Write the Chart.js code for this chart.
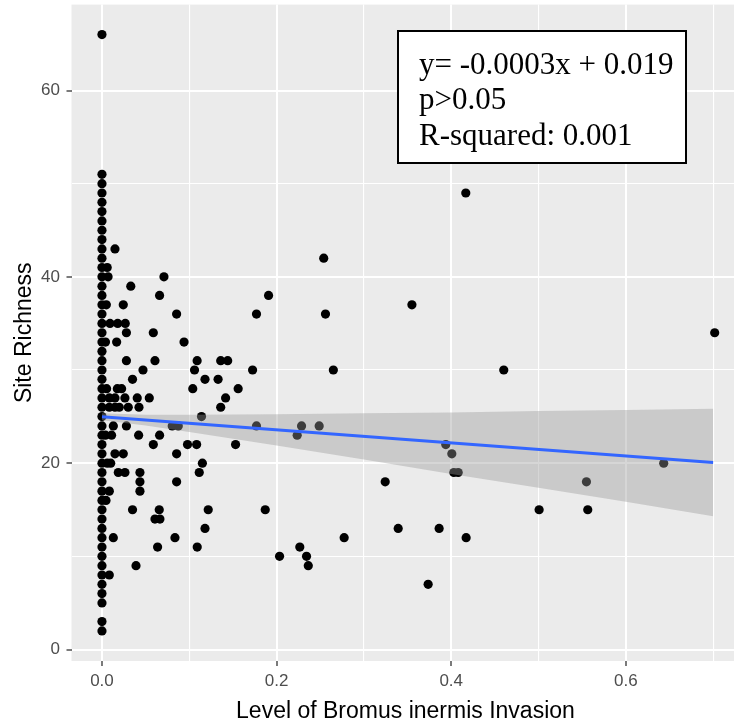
<!DOCTYPE html>
<html>
<head>
<meta charset="utf-8">
<script src="https://cdn.jsdelivr.net/npm/chart.js@4.4.1/dist/chart.umd.min.js"></script>
<style>
  html, body { margin: 0; padding: 0; background: #ffffff; overflow: hidden; }
  #wrap { width: 734px; height: 725px; position: relative; overflow: hidden; }
  #c { display: block; }
</style>
</head>
<body>
<div id="wrap"><canvas id="c" width="744" height="725"></canvas></div>
<script>
// Level of Bromus inermis invasion per site (proportion cover)
const bromusLevel = [
  0, 0, 0, 0, 0, 0, 0, 0, 0, 0,
  0, 0, 0, 0, 0, 0, 0, 0, 0, 0,
  0, 0, 0, 0, 0, 0, 0, 0, 0, 0,
  0, 0, 0, 0, 0, 0, 0, 0, 0, 0,
  0, 0, 0, 0, 0, 0, 0, 0, 0, 0,
  0.0149, 0.006, 0.007, 0.071, 0.033, 0.066, 0.0244, 0.005, 0.0855, 0.177,
  0.0092, 0.018, 0.0267, 0.028, 0.0588, 0.0168, 0.004, 0.094,
  0.028, 0.0607, 0.109, 0.136, 0.144, 0.047, 0.106, 0.1725,
  0.035, 0.118, 0.133, 0.0053, 0.0176, 0.0225, 0.104, 0.156,
  0.0084, 0.0149, 0.0263, 0.0404, 0.0542, 0.1416,
  0.0084, 0.0149, 0.0198, 0.0301, 0.0424, 0.136, 0.114,
  0.013, 0.028, 0.0805, 0.0874, 0.177,
  0.004, 0.011, 0.042, 0.066, 0.0588, 0.098, 0.1084, 0.153,
  0.0149, 0.0244, 0.0855, 0.006, 0.01, 0.115,
  0.0187, 0.0263, 0.0435, 0.1114, 0.0435, 0.0855, 0.0084, 0.0435, 0.0046,
  0.035, 0.0656, 0.1217, 0.0607, 0.0664, 0.118, 0.013, 0.0836,
  0.0637, 0.1091, 0.039, 0.0084,
  0.254, 0.1908, 0.256, 0.355, 0.265, 0.2286, 0.2236, 0.2488, 0.3938,
  0.187, 0.2034, 0.2266, 0.2343, 0.2363, 0.2774, 0.3244, 0.3393, 0.3862, 0.3736,
  0.4171, 0.4007, 0.403, 0.408, 0.4602, 0.7018, 0.4167,
  0.5007, 0.5564, 0.5549, 0.6434
];

// Species richness recorded at each site
const siteRichness = [
  2, 3, 5, 6, 7, 8, 9, 10, 11, 12,
  13, 14, 15, 16, 17, 18, 19, 20, 21, 22,
  23, 24, 25, 26, 27, 28, 29, 30, 31, 32,
  33, 34, 35, 36, 37, 38, 39, 40, 41, 42,
  43, 44, 45, 46, 47, 48, 49, 50, 51, 66,
  43, 41, 40, 40, 39, 38, 37, 37, 36, 36,
  35, 35, 35, 34, 34, 33, 33, 33,
  31, 31, 31, 31, 31, 30, 30, 30,
  29, 29, 29, 28, 28, 28, 28, 28,
  27, 27, 27, 27, 27, 27,
  26, 26, 26, 26, 26, 26, 25,
  24, 24, 24, 24, 24,
  23, 23, 23, 23, 22, 22, 22, 22,
  21, 21, 21, 20, 20, 20,
  19, 19, 19, 19, 18, 18, 17, 17, 16,
  15, 15, 15, 14, 14, 13, 12, 12,
  11, 11, 9, 8,
  42, 38, 36, 37, 30, 24, 23, 24, 22,
  15, 10, 11, 10, 9, 12, 18, 13, 13, 7,
  12, 21, 19, 19, 30, 34, 49,
  15, 15, 18, 20
];

// Fitted linear trend and its 95% confidence band
const fitX = [0, 0.7];
const fitY = [24.97, 20.07];
const bandX = [0, 0.05, 0.1, 0.2, 0.3, 0.4, 0.5, 0.6, 0.7];
const bandUpper = [25.35, 25.2, 25.2, 25.25, 25.35, 25.45, 25.6, 25.7, 25.85];
const bandLower = [24.6, 24.05, 23.35, 21.9, 20.4, 18.85, 17.35, 15.85, 14.3];

// Axis ticks
const xMajorTicks = [0, 0.2, 0.4, 0.6];
const xMinorTicks = [0.1, 0.3, 0.5, 0.7];
const yMajorTicks = [0, 20, 40, 60];
const yMinorTicks = [10, 30, 50];

// Regression summary text
const summaryLines = ['y= -0.0003x + 0.019', 'p>0.05', 'R-squared: 0.001'];

const toXY = (xs, ys) => xs.map((x, i) => ({ x: x, y: ys[i] }));
const isMajor = (list, v) => list.some(t => Math.abs(t - v) < 1e-9);
const noOverhang = scale => {
  scale.paddingTop = 0; scale.paddingBottom = 0;
  scale.paddingLeft = 0; scale.paddingRight = 0;
};

const panelBackground = {
  id: 'panelBackground',
  beforeDraw(chart) {
    const { ctx, chartArea: a } = chart;
    ctx.save();
    ctx.fillStyle = '#EBEBEB';
    ctx.fillRect(a.left, a.top, a.right - a.left, a.bottom - a.top);
    ctx.restore();
  }
};

const summaryBox = {
  id: 'summaryBox',
  afterDraw(chart) {
    const ctx = chart.ctx;
    ctx.save();
    ctx.fillStyle = '#ffffff';
    ctx.fillRect(398, 31, 288, 132);
    ctx.strokeStyle = '#000000';
    ctx.lineWidth = 2;
    ctx.strokeRect(398, 31, 288, 132);
    ctx.fillStyle = '#000000';
    ctx.font = '31px "Liberation Serif", "Times New Roman", serif';
    ctx.textAlign = 'left';
    ctx.textBaseline = 'alphabetic';
    summaryLines.forEach((line, i) => ctx.fillText(line, 419, 73.5 + i * 35.5));
    ctx.restore();
  }
};

Chart.defaults.font.family = '"Liberation Sans", Arial, sans-serif';

new Chart(document.getElementById('c'), {
  type: 'scatter',
  data: {
    datasets: [
      {
        type: 'line',
        data: toXY(fitX, fitY),
        borderColor: '#3366FF',
        borderWidth: 3,
        pointRadius: 0,
        fill: false,
        order: 1
      },
      {
        type: 'line',
        data: toXY(bandX, bandUpper),
        borderWidth: 0,
        borderColor: 'rgba(0,0,0,0)',
        pointRadius: 0,
        fill: '+1',
        backgroundColor: 'rgba(153,153,153,0.4)',
        order: 2
      },
      {
        type: 'line',
        data: toXY(bandX, bandLower),
        borderWidth: 0,
        borderColor: 'rgba(0,0,0,0)',
        pointRadius: 0,
        fill: false,
        order: 2
      },
      {
        type: 'scatter',
        data: toXY(bromusLevel, siteRichness),
        backgroundColor: '#000000',
        pointRadius: 4.6,
        pointBorderWidth: 0,
        order: 3
      }
    ]
  },
  options: {
    responsive: false,
    animation: false,
    layout: { padding: { top: 4, right: 0, left: 0, bottom: 0 } },
    plugins: { legend: { display: false }, tooltip: { enabled: false } },
    scales: {
      x: {
        type: 'linear',
        min: -0.0349,
        max: 0.7301,
        afterBuildTicks(scale) {
          scale.ticks = xMajorTicks.concat(xMinorTicks).sort((a, b) => a - b).map(v => ({ value: v }));
        },
        afterFit(scale) { scale.height = 64; noOverhang(scale); },
        border: { display: false },
        grid: {
          color: '#FFFFFF',
          lineWidth: ctx => isMajor(xMajorTicks, ctx.tick.value) ? 2 : 1.1,
          tickColor: ctx => isMajor(xMajorTicks, ctx.tick.value) ? '#333333' : 'rgba(0,0,0,0)',
          tickWidth: 1.3,
          tickLength: 5
        },
        ticks: {
          autoSkip: false,
          maxRotation: 0,
          padding: 5,
          color: '#4D4D4D',
          font: { size: 17 },
          callback: v => isMajor(xMajorTicks, v) ? v.toFixed(1) : ''
        },
        title: {
          display: true,
          text: 'Level of Bromus inermis Invasion',
          color: '#000000',
          font: { size: 23, lineHeight: 1.2 },
          padding: { top: 0, bottom: 0 }
        }
      },
      y: {
        type: 'linear',
        min: -1.233,
        max: 69.22,
        afterBuildTicks(scale) {
          scale.ticks = yMajorTicks.concat(yMinorTicks).sort((a, b) => a - b).map(v => ({ value: v }));
        },
        afterFit(scale) { scale.width = 71.5; noOverhang(scale); },
        border: { display: false },
        grid: {
          color: '#FFFFFF',
          lineWidth: ctx => isMajor(yMajorTicks, ctx.tick.value) ? 2 : 1.1,
          tickColor: ctx => isMajor(yMajorTicks, ctx.tick.value) ? '#333333' : 'rgba(0,0,0,0)',
          tickWidth: 1.3,
          tickLength: 5
        },
        ticks: {
          autoSkip: false,
          padding: 6.5,
          color: '#4D4D4D',
          font: { size: 17 },
          callback: v => isMajor(yMajorTicks, v) ? String(v) : ''
        },
        title: {
          display: true,
          text: 'Site Richness',
          color: '#000000',
          font: { size: 23, lineHeight: 1.2 },
          padding: { top: 11, bottom: 0 }
        }
      }
    }
  },
  plugins: [panelBackground, summaryBox]
});
</script>
</body>
</html>
